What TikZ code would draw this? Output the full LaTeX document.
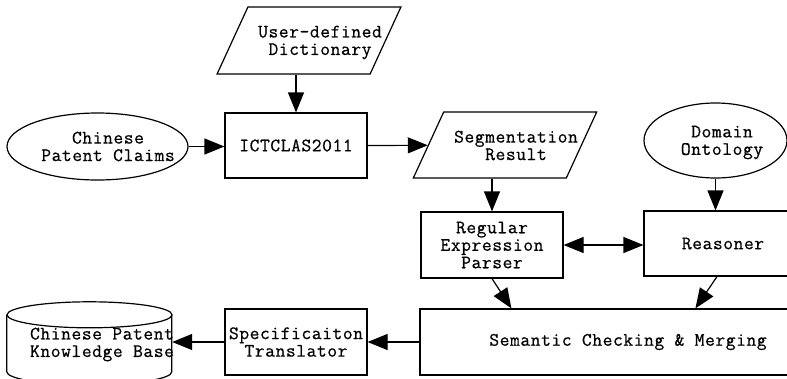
\documentclass[tikz,border=0pt]{standalone}
\usepackage{fontspec}
\setmonofont{Latin Modern Mono}[LetterSpace=3, FakeBold=0.6]
\usetikzlibrary{arrows.meta,shapes.geometric}
\begin{document}
\begin{tikzpicture}[x=1pt,y=-1pt,
  txt/.style={font=\ttfamily\fontsize{19}{17.5}\selectfont, align=center, inner sep=0pt},
  box/.style={txt, draw, line width=1.2pt, rectangle},
  oval/.style={draw, line width=1.2pt, ellipse, inner sep=0pt},
  para/.style={draw, line width=1.2pt, rectangle, xslant=0.46, transform shape, inner sep=0pt},
  arr/.style={-{Triangle[length=20pt,width=16pt]}, line width=1.2pt},
  darr/.style={{Triangle[length=20pt,width=16pt]}-{Triangle[length=20pt,width=16pt]}, line width=1.2pt}]
\useasboundingbox (0,0) rectangle (787,378);
\clip (0,0) rectangle (787,378);
% shapes
\node[para, minimum width=153pt, minimum height=67pt] (dict) at (309,40.5) {};
\node[txt] (dictt) at (320,42.5) {User-defined\\Dictionary};
\node[oval, minimum width=181pt, minimum height=67pt] (cpc) at (97.5,146.5) {};
\node[txt] (cpct) at (108,146.5) {Chinese\\Patent Claims};
\node[box, minimum width=142pt, minimum height=65pt] (ict) at (296,145.5) {ICTCLAS2011};
\node[para, minimum width=153pt, minimum height=66pt] (seg) at (505,145) {};
\node[txt] (segt) at (516,145.5) {Segmentation\\Result};
\node[oval, minimum width=143pt, minimum height=75pt] (dom) at (715.5,140.5) {};
\node[txt] (domt) at (722,142.5) {Domain\\Ontology};
\node[box, minimum width=142pt, minimum height=66pt] (rep) at (492,245) {Regular\\Expression\\Parser};
\node[box, minimum width=158pt, minimum height=65pt] (rsn) at (723,243.5) {Reasoner};
\node[box, minimum width=416pt, minimum height=66pt] (sem) at (628,342) {Semantic Checking \& Merging};
\node[box, minimum width=142pt, minimum height=66pt] (spec) at (296,342) {Specificaiton\\Translator};
% cylinder
\node[minimum width=165pt, minimum height=83pt, inner sep=0pt] (kb) at (89.5,343.5) {};
\draw[line width=1.2pt] (kb.north) ++(0,13) ellipse[x radius=82.5pt, y radius=13pt];
\draw[line width=1.2pt] (kb.north west) ++(0,13) -- ++(0,57)
  arc[start angle=180, end angle=360, x radius=82.5pt, y radius=13pt] -- ++(0,-57);
\node[txt] (kbt) at (102,344.5) {Chinese Patent\\Knowledge Base};
% connectors
\draw[arr] (ict.north |- dict.south) -- (ict.north);
\draw[arr] (cpc.east) -- (cpc.east -| ict.west);
\draw[arr] (ict.east) -- (seg);
\draw[arr] (rep.north |- seg.south) -- (rep.north);
\draw[arr] (dom.south) -- (dom.south |- rsn.north);
\draw[darr] (rep.east) -- (rep.east -| rsn.west);
\draw[arr] (rep.south) -- ([xshift=92pt]sem.north west);
\draw[arr] ([xshift=-6pt]rsn.south) -- ([xshift=276pt]sem.north west);
\draw[arr] (sem.west) -- (sem.west -| spec.east);
\draw[arr] (spec.west) -- (spec.west -| kb.east);
\end{tikzpicture}
\end{document}
